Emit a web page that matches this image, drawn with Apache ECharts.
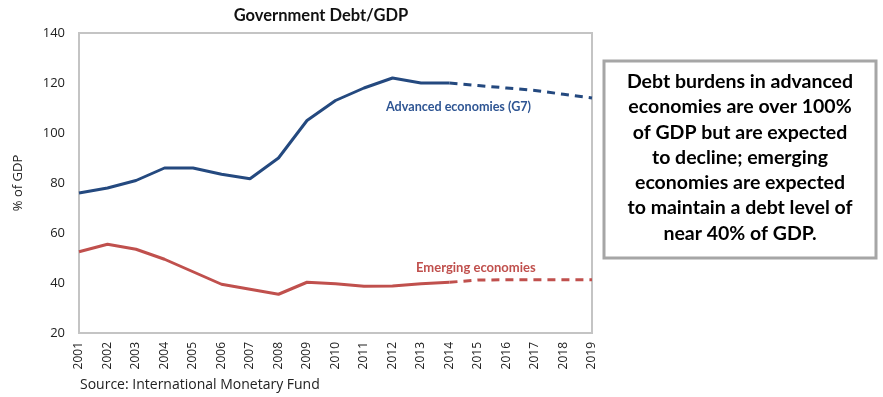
<!DOCTYPE html>
<html><head><meta charset="utf-8">
<script src="https://cdn.jsdelivr.net/npm/echarts@6/dist/echarts.min.js"></script>
<style>html,body{margin:0;padding:0;background:#fff}#c{width:883px;height:397px}</style>
</head><body><div id="c"></div>
<script>
const years = ['2001','2002','2003','2004','2005','2006','2007','2008','2009','2010','2011','2012','2013','2014','2015','2016','2017','2018','2019'];
const advancedActual = [76,78,81,86,86,83.5,81.7,90,105,113,118,122,120,120,null,null,null,null,null];
const advancedForecast = [null,null,null,null,null,null,null,null,null,null,null,null,null,120,119,118,117,115.5,114];
const emergingActual = [52.5,55.5,53.5,49.5,44.5,39.5,37.5,35.5,40.3,39.7,38.7,38.8,39.7,40.3,null,null,null,null,null];
const emergingForecast = [null,null,null,null,null,null,null,null,null,null,null,null,null,40.3,41.2,41.3,41.3,41.3,41.3];
const yTicks = [20,140,20];
const blue = '#24497f', red = '#c0504d';
const chart = echarts.init(document.getElementById('c'), null, {renderer:'canvas'});
const lineSeries = (name, data, color, dashed) => ({
  name, type:'line', data, symbol:'none', connectNulls:false, silent:true,
  lineStyle:{color, width:3, type: dashed ? [8,6] : 'solid'}, z: 3
});
chart.setOption({
  animation:false,
  title:{text:'Government Debt/GDP', left:316, top:2, textAlign:'center',
    textStyle:{fontFamily:'Lato', fontWeight:'bold', fontSize:16.5, color:'#111'}},
  grid:{left:79, top:33, right:291, bottom:64, show:true, borderColor:'#c4c4c4', borderWidth:2},
  xAxis:{type:'category', data:years, boundaryGap:false,
    axisLine:{show:false}, axisTick:{show:false}, splitLine:{show:false},
    axisLabel:{rotate:90, interval:0, margin:9, fontFamily:'Open Sans', fontSize:12, color:'#222'}},
  yAxis:{type:'value', min:yTicks[0], max:yTicks[1], interval:yTicks[2],
    axisLine:{show:false}, axisTick:{show:false}, splitLine:{show:false},
    name:'% of GDP', nameLocation:'middle', nameGap:54, nameRotate:90,
    nameTextStyle:{fontFamily:'Open Sans', fontSize:13, color:'#222'},
    axisLabel:{margin:14, fontFamily:'Open Sans', fontSize:13, color:'#222'}},
  series:[
    lineSeries('Advanced economies (G7)', advancedActual, blue, false),
    lineSeries('Advanced forecast', advancedForecast, blue, true),
    lineSeries('Emerging economies', emergingActual, red, false),
    lineSeries('Emerging forecast', emergingForecast, red, true)
  ],
  graphic:[
    {type:'text', left:386, top:100, style:{text:'Advanced economies (G7)', fill:'#2e5593', font:'bold 12.6px Lato'}},
    {type:'text', left:416, top:261, style:{text:'Emerging economies', fill:'#c0504d', font:'bold 13px Lato'}},
    {type:'text', left:80, top:378, style:{text:'Source: International Monetary Fund', fill:'#222', font:'14px "Open Sans"'}},
    {type:'rect', shape:{x:604, y:61, width:272, height:197}, style:{fill:'#fff', stroke:'#a6a6a6', lineWidth:3}},
    {type:'text', x:740, y:69, style:{
      text:'Debt burdens in advanced\neconomies are over 100%\nof GDP but are expected\nto decline; emerging\neconomies are expected\nto maintain a debt level of\nnear 40% of GDP.',
      fill:'#000', font:'bold 19.5px Lato', align:'center', lineHeight:25.3}}
  ]
});
</script></body></html>
